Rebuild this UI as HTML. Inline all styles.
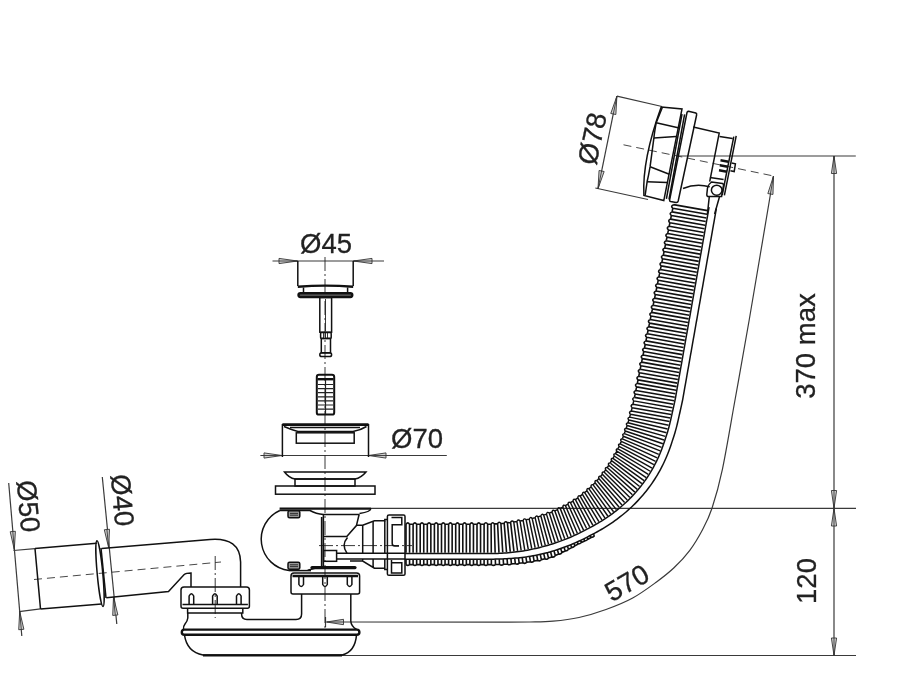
<!DOCTYPE html>
<html><head><meta charset="utf-8"><style>
html,body{margin:0;padding:0;background:#fff;overflow:hidden}
svg{display:block;will-change:transform}
.tx{font-family:"Liberation Sans",sans-serif;font-size:27.5px;fill:#222;stroke:#222;stroke-width:0.3}
.d{stroke:#3a3a3a;stroke-width:1.2;fill:none}
.t{stroke:#222;stroke-width:0.9;fill:none}
.s{stroke:#111;stroke-width:1.5;fill:none}
.k{stroke:#111;stroke-width:2.4;fill:none}
.k2{stroke:#111;stroke-width:2.6;fill:none}
.k3{stroke:#111;stroke-width:3.2;fill:none;stroke-linecap:round}
.rib{stroke:#111;stroke-width:1.6;fill:none}
.rib2{stroke:#111;stroke-width:1.45;fill:none}
.bead{stroke:#111;stroke-width:1.3;fill:none}
.ar{stroke:#333;stroke-width:0.9;fill:#d0d0d0}
.c{stroke:#222;stroke-width:0.9;stroke-dasharray:14 3 2 3;fill:none}
.c2{stroke:#333;stroke-width:0.9;stroke-dasharray:8 5;fill:none}
</style></head><body>
<svg width="907" height="693" viewBox="0 0 907 693">
<line class="d" x1="834" y1="156" x2="834" y2="655.5"/>
<line class="d" x1="676.8" y1="156" x2="855.8" y2="156"/>
<line class="d" x1="371" y1="508.3" x2="856" y2="508.3"/>
<line class="d" x1="342" y1="655.5" x2="856" y2="655.5"/>
<path class="ar" d="M834,156 L831.4,173.5 L836.6,173.5 Z M834,156 L834,173.5"/>
<path class="ar" d="M834,508.3 L836.6,490.5 L831.4,490.5 Z M834,508.3 L834,490.5"/>
<path class="ar" d="M834,508.3 L831.4,526 L836.6,526 Z M834,508.3 L834,526"/>
<path class="ar" d="M834,655.5 L836.6,638 L831.4,638 Z M834,655.5 L834,638"/>
<text class="tx" transform="translate(814.5,346) rotate(-90)" text-anchor="middle">370 max</text>
<text class="tx" transform="translate(816.4,581) rotate(-90)" text-anchor="middle">120</text>
<line class="d" x1="272.5" y1="261" x2="384" y2="261"/>
<path class="ar" d="M297.5,261 L279,258.4 L279,263.6 Z M297.5,261 L279,261"/>
<path class="ar" d="M353.5,261 L372,263.6 L372,258.4 Z M353.5,261 L372,261"/>
<text class="tx" x="326" y="252.5" text-anchor="middle">Ø45</text>
<line class="d" x1="260.4" y1="455.5" x2="446.8" y2="455.5"/>
<path class="ar" d="M282,455.5 L264,452.9 L264,458.1 Z M282,455.5 L264,455.5"/>
<path class="ar" d="M368.5,455.5 L386,458.1 L386,452.9 Z M368.5,455.5 L386,455.5"/>
<text class="tx" x="417" y="448.3" text-anchor="middle">Ø70</text>
<line class="d" x1="616.9" y1="96.2" x2="598" y2="188.8"/>
<line class="d" x1="616.9" y1="96.2" x2="662" y2="106.5"/>
<line class="d" x1="595.3" y1="188" x2="648" y2="199.5"/>
<path class="ar" d="M616.9,96.2 L610.75,113.48 L615.85,114.52 Z M616.9,96.2 L613.3,114"/>
<path class="ar" d="M598,188.8 L604.15,171.52 L599.05,170.48 Z M598,188.8 L601.6,171"/>
<text class="tx" transform="translate(601.5,140.5) rotate(-78)" text-anchor="middle">Ø78</text>
<line class="d" x1="8.7" y1="483" x2="21.8" y2="636"/>
<line class="d" x1="13.5" y1="550.5" x2="35" y2="548.6"/>
<line class="d" x1="19" y1="611.7" x2="40.5" y2="608.9"/>
<path class="ar" d="M14.3,549.6 L15.39,531.29 L10.21,531.71 Z M14.3,549.6 L12.8,531.5"/>
<path class="ar" d="M19.7,611.4 L18.71,629.73 L23.89,629.27 Z M19.7,611.4 L21.3,629.5"/>
<text class="tx" transform="translate(19,507) rotate(85)" text-anchor="middle">Ø50</text>
<line class="d" x1="102.3" y1="477" x2="116.8" y2="624"/>
<path class="ar" d="M108.7,547.8 L109.49,529.25 L104.31,529.75 Z M108.7,547.8 L106.9,529.5"/>
<path class="ar" d="M113.5,597 L112.71,615.46 L117.89,614.94 Z M113.5,597 L115.3,615.2"/>
<text class="tx" transform="translate(113,501) rotate(85)" text-anchor="middle">Ø40</text>
<path class="d" d="M773.5,176 C769.45,200 755.62,282.67 749.2,320 C742.78,357.33 739.47,375.12 735,400 C730.53,424.88 726.23,451.25 722.4,469.3 C718.57,487.35 715.32,498.23 712,508.3 C708.68,518.37 706.2,522.7 702.5,529.7 C698.8,536.7 694.55,543.95 689.8,550.3 C685.05,556.65 679.55,562.52 674,567.8 C668.45,573.08 663.38,576.97 656.5,582 C649.62,587.03 641.12,593.42 632.7,598 C624.28,602.58 614.95,606.25 606,609.5 C597.05,612.75 587.83,615.55 579,617.5 C570.17,619.45 561.17,620.45 553,621.2 C544.83,621.95 538.83,621.85 530,622 C521.17,622.15 505,622.08 500,622.1 L344,622"/>
<path class="ar" d="M773.5,176 L767.84,193.56 L772.96,194.44 Z M773.5,176 L770.4,194"/>
<path class="ar" d="M326.5,622 L343.5,624.7 L343.5,619.3 Z M326.5,622 L343.5,622"/>
<line class="d" x1="325.5" y1="617" x2="325.5" y2="627"/>
<text class="tx" transform="translate(631.5,591) rotate(-30)" text-anchor="middle">570</text>
<line class="c" x1="325" y1="257" x2="325" y2="630"/>
<line class="c2" x1="34" y1="579.5" x2="221" y2="562"/>
<line class="c" x1="215.2" y1="556" x2="215.2" y2="618"/>
<line class="c" x1="319" y1="545.6" x2="412" y2="545.6"/>
<line class="c2" x1="623.5" y1="144.8" x2="773.5" y2="176"/>
<path class="s" d="M297.8,261 V286 M353.2,261 V286"/>
<path class="k" d="M297.8,286.8 Q325.5,284.5 353.2,286.8"/>
<path class="s" d="M303.5,287.5 V293 M347.6,287.5 V293"/>
<rect class="k" x="298.5" y="293.2" width="53.8" height="3.8" rx="1.9" style="fill:#666"/>
<rect class="s" x="319.8" y="297.5" width="11.8" height="34.7"/>
<line class="t" x1="325.5" y1="299" x2="325.5" y2="331"/>
<rect class="s" x="320.6" y="332.6" width="10.6" height="5.8" rx="1"/>
<path class="t" d="M323.5,333 V338 M325.5,333 V338 M327.5,333 V338"/>
<rect class="s" x="321.3" y="338.4" width="9.2" height="14.5"/>
<rect class="s" x="319.8" y="352.8" width="11.8" height="3.8" rx="1.9"/>
<rect class="s" x="316.8" y="374.8" width="17.4" height="39.8" rx="2.2" style="stroke-width:2"/>
<path class="k" d="M317.5,379.2 H333.5"/>
<path class="t" style="stroke-width:1.2" d="M325.5,380 V414 M318,384.5 H333 M318,388.6 H333 M318,392.7 H333 M318,396.8 H333 M318,400.9 H333 M318,405 H333 M318,409.1 H333"/>
<path class="k2" d="M282.4,424.6 H368.5"/>
<path class="s" d="M282.4,424 V457 M368.5,424 V457"/>
<path class="s" d="M284,426.5 Q292,430 298,431.5 H353 Q361,430 366.5,426.5"/>
<path class="s" d="M290,427.5 H360"/>
<rect class="s" x="296.3" y="432.8" width="57.9" height="10.4"/>
<path class="s" d="M284.5,472 H366 Q361,478 355,479 H295 Q289,478 284.5,472 Z"/>
<rect class="s" x="295" y="479" width="60" height="7"/>
<rect class="s" x="275.5" y="486" width="99.5" height="8.2"/>
<path class="k" d="M279.6,508.6 H371"/>
<path class="s" d="M279.8,510.5 A31.5,31.5 0 0 0 289,570.5"/>
<path class="s" d="M279.6,510.5 H310 Q316,514 323.6,514.4 H359.5"/>
<path class="s" d="M359.5,513.6 Q371,511.5 370.8,508.6"/>
<path class="s" d="M359.1,514.5 L356.4,525.6 L346.8,536.6 H323.6"/>
<path class="s" d="M347.5,537.5 Q341,545 347,553.2"/>
<path class="s" d="M323.4,514.4 V569 M321.6,517 V569"/>
<path class="s" d="M357,525.3 H362.7 L374.4,520.8 H384.8 V519.4 H387.4"/>
<path class="s" d="M362.7,525.3 V553 M373.1,521 V553 M384.8,520.8 V553"/>
<path class="s" d="M350,561 H362.7 L374.4,568.2 H384.8 V569.5 H387.4 M362.7,559 V561 M373.1,559 V568 M384.8,559 V568.2"/>
<rect class="s" x="288" y="510.8" width="11.8" height="7" rx="1.5" style="fill:#999"/>
<path class="t" d="M290,513.4 H298 M290,515.2 H298"/>
<rect class="s" x="288" y="562.2" width="11.8" height="7" rx="1.5" style="fill:#999"/>
<path class="t" d="M290,564.8 H298 M290,566.6 H298"/>
<path class="s" d="M387.4,516.5 Q387.4,515 389,515 H403.5 Q405,515 405,516.5 V574 Q405,575.3 403.5,575.3 H389 Q387.4,575.3 387.4,574 Z"/>
<path class="s" d="M391.5,517.4 H401.8 V524.7 H392.2 V543.5 Q392.2,546 395,546 H399"/>
<path class="s" d="M391.5,560 V573 H401.8 V562.8 H392"/>
<rect class="s" x="323.6" y="550.5" width="13" height="10.8"/>
<path class="s" d="M336.6,553.3 H405 M336.6,559.1 H405"/>
<path class="k3" d="M312,567.6 H355"/>
<path class="s" d="M307.7,570.2 L322,566.4"/>
<path class="s" d="M289,570.6 L311,570.6"/>
<path class="s" d="M291,576 Q291,573 294,573 H356.6 Q359.6,573 359.6,576 V592 Q359.6,594 357.6,594 H293 Q291,594 291,592 Z"/>
<path class="k" d="M292.5,576 H358"/>
<path class="s" d="M298.9,576.5 V584.5 Q301.2,588.5 303.5,584.5 V576.5"/>
<path class="s" d="M322.7,576.5 V584.5 Q325,588.5 327.3,584.5 V576.5"/>
<path class="s" d="M347.3,576.5 V584.5 Q349.6,588.5 351.9,584.5 V576.5"/>
<path class="s" d="M181,590 Q181,587 184,587 H246.4 Q249.4,587 249.4,590 V606.3 Q249.4,608.3 247.4,608.3 H183 Q181,608.3 181,606.3 Z"/>
<path class="s" d="M182.5,604.6 H247.9"/>
<path class="s" d="M189.1,604 V596 Q191.4,591.5 193.7,596 V604"/>
<path class="s" d="M212.6,604 V596 Q214.9,591.5 217.2,596 V604"/>
<path class="s" d="M236.5,604 V596 Q238.8,591.5 241.1,596 V604"/>
<path class="s" d="M187.6,608.5 V613 H242.8 V608.5"/>
<path class="s" d="M301.6,594 V614 Q301.6,619.5 296,619.5 H247 Q241.6,619.5 241.6,614 V613"/>
<path class="s" d="M350.8,594 V621 Q351,626 356.5,629.5"/>
<path class="s" d="M187.8,613 V618 Q187.5,621 185,624 Q183,626.5 183.5,629.5"/>
<rect class="k" x="181.8" y="629.6" width="177.6" height="5.2" rx="2.6"/>
<path class="s" d="M184.5,635.1 Q187,652 203,655 H342 Q355,652 356.5,635.1"/>
<path class="k" d="M203,655.4 H342"/>
<path class="s" d="M101.6,548.6 L210,539.4 Q240,537 240.6,562 V587"/>
<path class="s" d="M106.3,597.8 L168.5,591.5 L184.2,574.5 Q186,573 191,573 V587"/>
<path class="s" d="M35,548.6 L96.8,543.2 M40.5,608.9 L101.6,604.1 M35,548.6 L40.5,608.9"/>
<ellipse class="s" cx="100" cy="573.6" rx="2.8" ry="33" transform="rotate(-5.3 100 573.6)"/>
<path class="s" d="M101,548 L106,598"/>
<path class="rib" d="M406,524.3 L406,552.8 M409.55,524.3 L409.55,552.8 M413.1,524.3 L413.1,552.8 M416.65,524.3 L416.65,552.8 M420.2,524.3 L420.2,552.8 M423.75,524.3 L423.75,552.8 M427.3,524.3 L427.3,552.8 M430.85,524.3 L430.85,552.8 M434.4,524.3 L434.4,552.8 M437.95,524.3 L437.95,552.8 M441.5,524.3 L441.5,552.8 M445.05,524.3 L445.05,552.8 M448.6,524.3 L448.6,552.8 M452.15,524.3 L452.15,552.8 M455.7,524.3 L455.7,552.8 M459.25,524.3 L459.25,552.8 M462.8,524.3 L462.8,552.8 M466.35,524.3 L466.35,552.8 M469.9,524.3 L469.9,552.8 M473.45,524.3 L473.45,552.8 M477,524.3 L477,552.8 M480.55,524.3 L480.55,552.8 M484.1,524.27 L484.1,552.8 M487.65,524.19 L487.65,552.8 M491.1,524.07 L491.3,552.79 M494.35,523.92 L495.14,552.73 M497.62,523.72 L498.97,552.59 M500.9,523.47 L502.77,552.37 M504.15,523.18 L506.53,552.1 M507.39,522.84 L510.25,551.76 M510.59,522.45 L513.92,551.37 M634.46,397.39 L673.35,404.24 M635.18,393.92 L674.09,400.77 M635.89,390.42 L674.77,397.27 M636.6,386.9 L675.39,393.74 M637.31,383.37 L676.02,390.19 M638.03,379.84 L676.64,386.65 M638.75,376.31 L677.27,383.1 M639.46,372.78 L677.89,379.55 M640.18,369.24 L678.52,375.99 M640.9,365.7 L679.14,372.44 M641.62,362.16 L679.77,368.88 M642.33,358.62 L680.4,365.33 M643.05,355.07 L681.03,361.77 M643.77,351.53 L681.65,358.2 M644.49,347.98 L682.28,354.64 M645.21,344.43 L682.91,351.08 M645.93,340.88 L683.54,347.51 M646.65,337.33 L684.17,343.94 M647.37,333.78 L684.8,340.37 M648.09,330.22 L685.42,336.8 M648.81,326.66 L686.05,333.22 M649.54,323.1 L686.68,329.65 M650.26,319.54 L687.31,326.07 M650.98,315.98 L687.95,322.49 M651.7,312.41 L688.58,318.91 M652.43,308.85 L689.21,315.33 M653.15,305.28 L689.84,311.74 M653.87,301.71 L690.47,308.16 M654.6,298.14 L691.1,304.57 M655.32,294.56 L691.74,300.98 M656.05,290.99 L692.37,297.39 M656.77,287.41 L693,293.79 M657.5,283.83 L693.64,290.2 M658.22,280.25 L694.27,286.6 M658.95,276.67 L694.9,283 M659.68,273.08 L695.54,279.4 M660.41,269.5 L696.17,275.8 M661.13,265.91 L696.81,272.2 M661.86,262.32 L697.44,268.59 M662.59,258.73 L698.08,264.98 M663.32,255.13 L698.71,261.37 M664.05,251.54 L699.35,257.76 M664.78,247.94 L699.99,254.15 M665.51,244.34 L700.62,250.53 M666.24,240.74 L701.26,246.92 M666.97,237.14 L701.9,243.3 M667.7,233.54 L702.54,239.68 M668.43,229.93 L703.18,236.05 M669.16,226.32 L703.81,232.43 M669.89,222.71 L704.45,228.8 M670.62,219.1 L705.09,225.18 M671.36,215.49 L705.73,221.55 M672.09,211.88 L706.37,217.92 M672.82,208.26 L707.01,214.28 M673.56,204.64 L707.65,210.65 M406,524.3 Q407.77,521.46 409.55,524.3 M413.1,524.3 Q414.87,521.46 416.65,524.3 M420.2,524.3 Q421.97,521.46 423.75,524.3 M427.3,524.3 Q429.07,521.46 430.85,524.3 M434.4,524.3 Q436.17,521.46 437.95,524.3 M441.5,524.3 Q443.27,521.46 445.05,524.3 M448.6,524.3 Q450.37,521.46 452.15,524.3 M455.7,524.3 Q457.47,521.46 459.25,524.3 M462.8,524.3 Q464.57,521.46 466.35,524.3 M469.9,524.3 Q471.67,521.46 473.45,524.3 M477,524.3 Q478.77,521.46 480.55,524.3 M484.1,524.27 Q485.87,521.39 487.65,524.19 M491.1,524.07 Q492.7,521.39 494.35,523.92 M497.62,523.72 Q499.14,520.97 500.9,523.47 M504.15,523.18 Q505.56,520.41 507.39,522.84 M510.59,522.45 Q511.89,519.69 513.77,522.02 M635.18,393.92 Q632.72,391.67 635.89,390.42 M636.6,386.9 Q634.12,384.64 637.31,383.37 M638.03,379.84 Q635.55,377.58 638.75,376.31 M639.46,372.78 Q636.98,370.51 640.18,369.24 M640.9,365.7 Q638.41,363.43 641.62,362.16 M642.33,358.62 Q639.84,356.34 643.05,355.07 M643.77,351.53 Q641.28,349.25 644.49,347.98 M645.21,344.43 Q642.72,342.16 645.93,340.88 M646.65,337.33 Q644.15,335.05 647.37,333.78 M648.09,330.22 Q645.59,327.94 648.81,326.66 M649.54,323.1 Q647.03,320.82 650.26,319.54 M650.98,315.98 Q648.48,313.69 651.7,312.41 M652.43,308.85 Q649.92,306.56 653.15,305.28 M653.87,301.71 Q651.36,299.42 654.6,298.14 M655.32,294.56 Q652.81,292.27 656.05,290.99 M656.77,287.41 Q654.26,285.11 657.5,283.83 M658.22,280.25 Q655.71,277.95 658.95,276.67 M659.68,273.08 Q657.16,270.78 660.41,269.5 M661.13,265.91 Q658.61,263.61 661.86,262.32 M662.59,258.73 Q660.06,256.42 663.32,255.13 M664.05,251.54 Q661.52,249.23 664.78,247.94 M665.51,244.34 Q662.98,242.03 666.24,240.74 M666.97,237.14 Q664.43,234.83 667.7,233.54 M668.43,229.93 Q665.89,227.62 669.16,226.32 M669.89,222.71 Q667.35,220.4 670.62,219.1 M671.36,215.49 Q668.82,213.17 672.09,211.88 M672.82,208.26 Q670.28,205.94 673.56,204.64 M409.55,524.3 L413.1,524.3 M416.65,524.3 L420.2,524.3 M423.75,524.3 L427.3,524.3 M430.85,524.3 L434.4,524.3 M437.95,524.3 L441.5,524.3 M445.05,524.3 L448.6,524.3 M452.15,524.3 L455.7,524.3 M459.25,524.3 L462.8,524.3 M466.35,524.3 L469.9,524.3 M473.45,524.3 L477,524.3 M480.55,524.3 L484.1,524.27 M487.65,524.19 L491.1,524.07 M494.35,523.92 L497.62,523.72 M500.9,523.47 L504.15,523.18 M507.39,522.84 L510.59,522.45 M634.46,397.39 L635.18,393.92 M635.89,390.42 L636.6,386.9 M637.31,383.37 L638.03,379.84 M638.75,376.31 L639.46,372.78 M640.18,369.24 L640.9,365.7 M641.62,362.16 L642.33,358.62 M643.05,355.07 L643.77,351.53 M644.49,347.98 L645.21,344.43 M645.93,340.88 L646.65,337.33 M647.37,333.78 L648.09,330.22 M648.81,326.66 L649.54,323.1 M650.26,319.54 L650.98,315.98 M651.7,312.41 L652.43,308.85 M653.15,305.28 L653.87,301.71 M654.6,298.14 L655.32,294.56 M656.05,290.99 L656.77,287.41 M657.5,283.83 L658.22,280.25 M658.95,276.67 L659.68,273.08 M660.41,269.5 L661.13,265.91 M661.86,262.32 L662.59,258.73 M663.32,255.13 L664.05,251.54 M664.78,247.94 L665.51,244.34 M666.24,240.74 L666.97,237.14 M667.7,233.54 L668.43,229.93 M669.16,226.32 L669.89,222.71 M670.62,219.1 L671.36,215.49 M672.09,211.88 L672.82,208.26"/>
<path class="rib2" d="M513.77,522.02 L517.56,550.92 M516.92,521.54 L521.16,550.42 M520.04,521.01 L524.72,549.86 M523.12,520.44 L528.24,549.2 M526.17,519.82 L531.72,548.5 M529.18,519.15 L535.15,547.74 M532.15,518.43 L538.55,546.94 M535.09,517.66 L541.91,546.08 M537.99,516.85 L545.23,545.18 M540.84,515.99 L548.52,544.24 M543.68,515.07 L551.79,543.24 M546.49,514.09 L555.04,542.18 M549.28,513.06 L558.28,541.07 M552.05,511.98 L561.51,539.9 M554.79,510.83 L564.72,538.68 M557.49,509.63 L567.91,537.4 M560.17,508.37 L571.08,536.06 M562.81,507.04 L574.23,534.66 M565.41,505.66 L577.36,533.2 M567.98,504.23 L580.47,531.68 M570.5,502.73 L583.56,530.1 M572.99,501.18 L586.62,528.45 M575.43,499.57 L589.72,526.86 M577.82,497.9 L592.8,525.21 M580.16,496.18 L595.85,523.49 M582.46,494.4 L598.88,521.71 M584.7,492.58 L601.88,519.87 M586.89,490.71 L604.85,517.95 M589.02,488.79 L607.79,515.97 M591.1,486.83 L610.7,513.91 M593.11,484.82 L613.57,511.78 M595.07,482.78 L616.4,509.59 M596.98,480.7 L619.19,507.31 M598.82,478.58 L621.93,504.97 M600.61,476.44 L624.63,502.55 M602.34,474.26 L627.27,500.05 M604.01,472.06 L629.86,497.49 M605.63,469.83 L632.4,494.84 M607.19,467.57 L634.87,492.13 M608.7,465.3 L637.28,489.34 M610.16,463 L639.62,486.49 M611.57,460.69 L641.88,483.57 M612.93,458.35 L644.08,480.58 M614.24,456 L646.19,477.53 M615.5,453.62 L648.23,474.42 M616.72,451.23 L650.18,471.25 M617.91,448.81 L652.06,468.01 M619.06,446.36 L653.86,464.72 M620.17,443.88 L655.57,461.35 M621.26,441.36 L657.2,457.93 M622.31,438.81 L658.75,454.45 M623.33,436.22 L660.21,450.92 M624.32,433.6 L661.58,447.35 M625.28,430.94 L662.87,443.72 M626.21,428.24 L664.06,440.06 M627.11,425.51 L665.3,436.41 M627.99,422.74 L666.48,432.72 M628.84,419.93 L667.57,429.01 M629.66,417.09 L668.58,425.26 M630.46,414.2 L669.51,421.48 M631.29,411.03 L670.3,417.93 M632.13,407.67 L671.06,414.53 M632.94,404.27 L671.82,411.12 M633.72,400.84 L672.58,407.69 M516.92,521.54 Q518.11,518.78 520.04,521.01 M523.12,520.44 Q524.21,517.68 526.17,519.82 M529.18,519.15 Q530.17,516.39 532.15,518.43 M535.09,517.66 Q535.98,514.91 537.99,516.85 M540.84,515.99 Q541.64,513.23 543.68,515.07 M546.49,514.09 Q547.2,511.3 549.28,513.06 M552.05,511.98 Q552.66,509.16 554.79,510.83 M557.49,509.63 Q558,506.78 560.17,508.37 M562.81,507.04 Q563.21,504.18 565.41,505.66 M567.98,504.23 Q568.27,501.34 570.5,502.73 M572.99,501.18 Q573.16,498.28 575.43,499.57 M577.82,497.9 Q577.87,495 580.16,496.18 M582.46,494.4 Q582.39,491.51 584.7,492.58 M586.89,490.71 Q586.69,487.83 589.02,488.79 M591.1,486.83 Q590.77,483.98 593.11,484.82 M595.07,482.78 Q594.62,479.97 596.98,480.7 M598.82,478.58 Q598.24,475.83 600.61,476.44 M602.34,474.26 Q601.64,471.57 604.01,472.06 M605.63,469.83 Q604.81,467.2 607.19,467.57 M608.7,465.3 Q607.77,462.75 610.16,463 M611.57,460.69 Q610.52,458.22 612.93,458.35 M614.24,456 Q613.09,453.61 615.5,453.62 M616.72,451.23 Q615.47,448.91 617.91,448.81 M619.06,446.36 Q617.69,444.1 620.17,443.88 M621.26,441.36 Q619.78,439.16 622.31,438.81 M623.33,436.22 Q621.74,434.08 624.32,433.6 M625.28,430.94 Q623.58,428.86 626.21,428.24 M627.11,425.51 Q625.32,423.49 627.99,422.74 M628.84,419.93 Q626.94,417.97 629.66,417.09 M630.46,414.2 Q628.29,412.14 631.29,411.03 M632.13,407.67 Q629.78,405.48 632.94,404.27 M633.72,400.84 Q631.31,398.63 634.46,397.39 M513.77,522.02 L516.92,521.54 M520.04,521.01 L523.12,520.44 M526.17,519.82 L529.18,519.15 M532.15,518.43 L535.09,517.66 M537.99,516.85 L540.84,515.99 M543.68,515.07 L546.49,514.09 M549.28,513.06 L552.05,511.98 M554.79,510.83 L557.49,509.63 M560.17,508.37 L562.81,507.04 M565.41,505.66 L567.98,504.23 M570.5,502.73 L572.99,501.18 M575.43,499.57 L577.82,497.9 M580.16,496.18 L582.46,494.4 M584.7,492.58 L586.89,490.71 M589.02,488.79 L591.1,486.83 M593.11,484.82 L595.07,482.78 M596.98,480.7 L598.82,478.58 M600.61,476.44 L602.34,474.26 M604.01,472.06 L605.63,469.83 M607.19,467.57 L608.7,465.3 M610.16,463 L611.57,460.69 M612.93,458.35 L614.24,456 M615.5,453.62 L616.72,451.23 M617.91,448.81 L619.06,446.36 M620.17,443.88 L621.26,441.36 M622.31,438.81 L623.33,436.22 M624.32,433.6 L625.28,430.94 M626.21,428.24 L627.11,425.51 M627.99,422.74 L628.84,419.93 M629.66,417.09 L630.46,414.2 M631.29,411.03 L632.13,407.67 M632.94,404.27 L633.72,400.84"/>
<polyline class="s" points="405,553.6 407,553.6 409,553.6 411,553.6 413,553.6 415,553.6 417,553.6 419,553.6 421,553.6 423,553.6 425,553.6 427,553.6 429,553.6 431,553.6 433,553.6 435,553.6 437,553.6 439,553.6 441,553.6 443,553.6 445,553.6 447,553.6 449,553.6 451,553.6 453,553.6 455,553.6 457,553.6 459,553.6 461,553.6 463,553.6 465,553.6 467,553.6 469,553.6 471,553.6 473,553.6 475,553.6 477,553.6 479,553.6 481,553.6 483,553.6 485,553.6 487,553.6 489,553.6 491.09,553.6 493.27,553.57 495.44,553.52 497.6,553.45 499.76,553.35 501.91,553.23 504.06,553.09 506.2,552.93 508.34,552.74 510.48,552.54 512.61,552.32 514.74,552.08 516.86,551.82 518.98,551.54 521.1,551.24 523.22,550.92 525.32,550.56 527.43,550.17 529.52,549.76 531.62,549.33 533.71,548.88 535.8,548.41 537.88,547.92 539.96,547.41 542.03,546.88 544.1,546.33 546.16,545.75 548.22,545.16 550.27,544.54 552.32,543.91 554.37,543.25 556.4,542.57 558.43,541.87 560.46,541.14 562.48,540.4 564.49,539.63 566.5,538.84 568.5,538.02 570.49,537.19 572.47,536.33 574.45,535.44 576.42,534.53 578.38,533.6 580.33,532.65 582.27,531.67 584.2,530.66 586.12,529.63 588.05,528.62 590,527.61 591.93,526.59 593.86,525.53 595.78,524.46 597.69,523.35 599.58,522.22 601.47,521.07 603.34,519.88 605.21,518.68 607.06,517.44 608.9,516.17 610.72,514.88 612.53,513.56 614.33,512.21 616.11,510.84 617.87,509.43 619.62,507.99 621.35,506.53 623.06,505.04 624.76,503.52 626.43,501.96 628.08,500.38 629.71,498.77 631.32,497.14 632.91,495.47 634.47,493.77 636.01,492.05 637.52,490.3 639.01,488.52 640.46,486.71 641.89,484.87 643.29,483.01 644.67,481.13 646.01,479.22 647.32,477.29 648.59,475.33 649.84,473.35 651.05,471.35 652.23,469.33 653.38,467.29 654.49,465.23 655.56,463.16 656.6,461.06 657.61,458.96 658.58,456.83 659.52,454.7 660.42,452.55 661.28,450.39 662.11,448.22 662.91,446.04 663.67,443.86 664.39,441.66 665.1,439.47 665.85,437.29 666.57,435.11 667.26,432.92 667.91,430.72 668.54,428.53 669.13,426.33 669.69,424.12 670.22,421.92 670.72,419.76 671.15,417.8 671.59,415.83 672.02,413.88 672.46,411.93 672.89,409.98 673.32,408.03 673.76,406.07 674.19,404.12 674.63,402.17 675.02,400.21 675.41,398.25 675.76,396.28 676.1,394.31 676.45,392.34 676.8,390.37 677.15,388.4 677.49,386.43 677.84,384.46 678.19,382.49 678.53,380.52 678.88,378.55 679.23,376.58 679.57,374.61 679.92,372.64 680.27,370.67 680.62,368.7 680.96,366.73 681.31,364.76 681.66,362.79 682,360.82 682.35,358.86 682.7,356.89 683.04,354.92 683.39,352.95 683.74,350.98 684.09,349.01 684.43,347.04 684.78,345.07 685.13,343.1 685.47,341.13 685.82,339.16 686.17,337.19 686.51,335.22 686.86,333.25 687.21,331.28 687.56,329.31 687.9,327.34 688.25,325.37 688.6,323.4 688.94,321.43 689.29,319.47 689.64,317.5 689.99,315.53 690.33,313.56 690.68,311.59 691.03,309.62 691.37,307.65 691.72,305.68 692.07,303.71 692.41,301.74 692.76,299.77 693.11,297.8 693.46,295.83 693.8,293.86 694.15,291.89 694.5,289.92 694.84,287.95 695.19,285.98 695.54,284.01 695.88,282.04 696.23,280.08 696.58,278.11 696.93,276.14 697.27,274.17 697.62,272.2 697.97,270.23 698.31,268.26 698.66,266.29 699.01,264.32 699.35,262.35 699.7,260.38 700.05,258.41 700.4,256.44 700.74,254.47 701.09,252.5 701.44,250.53 701.78,248.56 702.13,246.59 702.48,244.62 702.83,242.66 703.17,240.69 703.52,238.72 703.87,236.75 704.21,234.78 704.56,232.81 704.91,230.84 705.25,228.87 705.6,226.9 705.95,224.93 706.3,222.96 706.64,220.99 706.99,219.02 707.34,217.05 707.68,215.08 708.03,213.11 708.38,211.14 708.72,209.17 709.07,207.2"/>
<polyline class="s" points="405,559.2 407,559.2 409,559.2 411,559.2 413,559.2 415,559.2 417,559.2 419,559.2 421,559.2 423,559.2 425,559.2 427,559.2 429,559.2 431,559.2 433,559.2 435,559.2 437,559.2 439,559.2 441,559.2 443,559.2 445,559.2 447,559.2 449,559.2 451,559.2 453,559.2 455,559.2 457,559.2 459,559.2 461,559.2 463,559.2 465,559.2 467,559.2 469,559.2 471,559.2 473,559.2 475,559.2 477,559.2 479,559.2 481,559.2 483,559.2 485,559.2 487,559.2 489.01,559.2 491.12,559.2 493.37,559.17 495.6,559.12 497.82,559.04 500.04,558.97 502.25,558.91 504.46,558.83 506.67,558.73 508.87,558.61 511.07,558.46 513.26,558.3 515.45,558.11 517.64,557.91 519.82,557.68 522.01,557.43 524.19,557.17 526.36,556.87 528.53,556.53 530.7,556.17 532.86,555.8 535.02,555.4 537.18,554.98 539.34,554.54 541.49,554.07 543.64,553.59 545.78,553.08 547.92,552.53 550.04,551.92 552.16,551.29 554.27,550.64 556.38,549.97 558.48,549.28 560.58,548.56 562.67,547.81 564.76,547.05 566.84,546.26 568.91,545.45 570.98,544.62 573.04,543.76 575.1,542.87 577.14,541.97 579.18,541.03 581.21,540.08 583.24,539.09 585.25,538.08 587.26,537.05 589.25,535.99 591.26,534.94 593.28,533.9 595.3,532.84 597.3,531.75 599.3,530.63 601.28,529.49 603.26,528.31 605.23,527.11 607.18,525.88 609.13,524.63 611.06,523.34 612.98,522.02 614.89,520.68 616.78,519.3 618.66,517.9 620.52,516.46 622.37,514.99 624.2,513.49 626.02,511.97 627.81,510.41 629.59,508.81 631.35,507.19 633.08,505.53 634.8,503.85 636.49,502.13 638.16,500.38 639.8,498.6 641.42,496.8 643.01,494.96 644.58,493.09 646.12,491.19 647.62,489.27 649.1,487.31 650.55,485.33 651.96,483.33 653.34,481.29 654.69,479.24 656,477.16 657.28,475.06 658.52,472.93 659.73,470.79 660.9,468.63 662.04,466.45 663.14,464.25 664.2,462.04 665.22,459.81 666.21,457.57 667.16,455.31 668.07,453.05 668.94,450.78 669.78,448.49 670.58,446.2 671.35,443.91 672.09,441.61 672.87,439.33 673.63,437.04 674.34,434.76 675.03,432.46 675.68,430.17 676.3,427.87 676.88,425.57 677.44,423.27 677.95,421.05 678.39,419.08 678.83,417.11 679.27,415.16 679.71,413.21 680.15,411.26 680.58,409.3 681.02,407.35 681.46,405.4 681.9,403.45 682.3,401.49 682.69,399.53 683.04,397.56 683.39,395.59 683.74,393.62 684.09,391.65 684.43,389.68 684.78,387.71 685.13,385.74 685.47,383.77 685.82,381.8 686.17,379.83 686.52,377.86 686.86,375.9 687.21,373.93 687.56,371.96 687.9,369.99 688.25,368.02 688.6,366.05 688.94,364.08 689.29,362.11 689.64,360.14 689.99,358.17 690.33,356.2 690.68,354.23 691.03,352.26 691.37,350.29 691.72,348.32 692.07,346.35 692.41,344.38 692.76,342.41 693.11,340.44 693.46,338.47 693.8,336.51 694.15,334.54 694.5,332.57 694.84,330.6 695.19,328.63 695.54,326.66 695.88,324.69 696.23,322.72 696.58,320.75 696.93,318.78 697.27,316.81 697.62,314.84 697.97,312.87 698.31,310.9 698.66,308.93 699.01,306.96 699.36,304.99 699.7,303.02 700.05,301.05 700.4,299.09 700.74,297.12 701.09,295.15 701.44,293.18 701.78,291.21 702.13,289.24 702.48,287.27 702.83,285.3 703.17,283.33 703.52,281.36 703.87,279.39 704.21,277.42 704.56,275.45 704.91,273.48 705.25,271.51 705.6,269.54 705.95,267.57 706.3,265.6 706.64,263.63 706.99,261.66 707.34,259.7 707.68,257.73 708.03,255.76 708.38,253.79 708.72,251.82 709.07,249.85 709.42,247.88 709.77,245.91 710.11,243.94 710.46,241.97 710.81,240 711.15,238.03 711.5,236.06 711.85,234.09 712.2,232.12 712.54,230.15 712.89,228.18 713.24,226.21 713.58,224.24 713.93,222.27 714.28,220.31 714.62,218.34 714.97,216.37 715.32,214.4 715.67,212.43 716.01,210.46 716.36,208.49"/>
<path class="rib" d="M406,559.4 L406,564.6 M409.55,559.4 L409.55,564.6 M413.1,559.4 L413.1,564.6 M416.65,559.4 L416.65,564.6 M420.2,559.4 L420.2,564.6 M423.75,559.4 L423.75,564.6 M427.3,559.4 L427.3,564.6 M430.85,559.4 L430.85,564.6 M434.4,559.4 L434.4,564.6 M437.95,559.4 L437.95,564.6 M441.5,559.4 L441.5,564.6 M445.05,559.4 L445.05,564.6 M448.6,559.4 L448.6,564.6 M452.15,559.4 L452.15,564.6 M455.7,559.4 L455.7,564.6 M459.25,559.4 L459.25,564.6 M462.8,559.4 L462.8,564.6 M466.35,559.4 L466.35,564.6 M469.9,559.4 L469.9,564.6 M473.45,559.4 L473.45,564.6 M477,559.4 L477,564.6 M480.55,559.4 L480.55,564.6 M484.1,559.4 L484.1,564.6 M487.65,559.4 L487.65,564.6 M491.35,559.39 L491.39,564.59 M495.33,559.33 L495.47,564.52 M499.27,559.19 L499.52,564.38 M503.2,559.08 L503.54,564.27 M507.09,558.91 L507.51,564.09 M510.93,558.67 L511.44,563.85 M514.73,558.37 L515.33,563.54 M518.49,558.02 L519.17,563.18 M522.22,557.61 L522.98,562.76 M525.91,557.14 L526.74,562.27 M529.55,556.57 L530.46,561.69 M533.16,555.95 L534.14,561.05 M536.73,555.27 L537.79,560.36 M540.26,554.54 L541.4,559.62 M543.76,553.76 L544.97,558.82 M547.22,552.93 L548.5,557.97 M550.62,551.96 L551.96,556.92 M554,550.94 L555.32,555.5 M557.38,549.85 L558.65,554.03 M560.74,548.71 L561.96,552.51 M564.09,547.51 L565.24,550.93 M567.42,546.25 L568.5,549.29 M570.74,544.93 L571.73,547.6 M574.03,543.55 L574.94,545.85 M577.32,542.11 L578.12,544.05 M580.58,540.6 L581.41,542.51 M583.82,539.03 L584.68,540.92 M587.04,537.39 L587.93,539.27 M590.23,535.68 L591.16,537.54 M593.47,534.03 L594.44,535.87 M406,564.6 Q407.77,566.2 409.55,564.6 M413.1,564.6 Q414.87,566.2 416.65,564.6 M420.2,564.6 Q421.97,566.2 423.75,564.6 M427.3,564.6 Q429.07,566.2 430.85,564.6 M434.4,564.6 Q436.17,566.2 437.95,564.6 M441.5,564.6 Q443.27,566.2 445.05,564.6 M448.6,564.6 Q450.37,566.2 452.15,564.6 M455.7,564.6 Q457.47,566.2 459.25,564.6 M462.8,564.6 Q464.57,566.2 466.35,564.6 M469.9,564.6 Q471.67,566.2 473.45,564.6 M477,564.6 Q478.77,566.2 480.55,564.6 M484.1,564.6 Q485.87,566.2 487.65,564.6 M491.39,564.59 Q493.44,566.16 495.47,564.52 M499.52,564.38 Q501.6,565.93 503.54,564.27 M507.51,564.09 Q509.61,565.56 511.44,563.85 M515.33,563.54 Q517.43,564.95 519.17,563.18 M522.98,562.76 Q525.09,564.09 526.74,562.27 M530.46,561.69 Q532.58,562.94 534.14,561.05 M537.79,560.36 Q539.92,561.56 541.4,559.62 M544.97,558.82 Q547.11,559.95 548.5,557.97 M551.96,556.92 Q554.05,557.74 555.32,555.5 M558.65,554.03 Q560.7,554.56 561.96,552.51 M565.24,550.93 Q567.23,551.16 568.5,549.29 M571.73,547.6 Q573.65,547.55 574.94,545.85 M578.12,544.05 Q580.01,543.88 581.41,542.51 M584.68,540.92 Q586.57,540.68 587.93,539.27 M591.16,537.54 Q593.09,537.28 594.44,535.87 M409.55,564.6 L413.1,564.6 M416.65,564.6 L420.2,564.6 M423.75,564.6 L427.3,564.6 M430.85,564.6 L434.4,564.6 M437.95,564.6 L441.5,564.6 M445.05,564.6 L448.6,564.6 M452.15,564.6 L455.7,564.6 M459.25,564.6 L462.8,564.6 M466.35,564.6 L469.9,564.6 M473.45,564.6 L477,564.6 M480.55,564.6 L484.1,564.6 M487.65,564.6 L491.39,564.59 M495.47,564.52 L499.52,564.38 M503.54,564.27 L507.51,564.09 M511.44,563.85 L515.33,563.54 M519.17,563.18 L522.98,562.76 M526.74,562.27 L530.46,561.69 M534.14,561.05 L537.79,560.36 M541.4,559.62 L544.97,558.82 M548.5,557.97 L551.96,556.92 M555.32,555.5 L558.65,554.03 M561.96,552.51 L565.24,550.93 M568.5,549.29 L571.73,547.6 M574.94,545.85 L578.12,544.05 M581.41,542.51 L584.68,540.92 M587.93,539.27 L591.16,537.54"/>
<path class="s" d="M661.2,107.1 L682,108.9 L663.8,200.6 L643.9,195.4 Q642,160 661.2,107.1 Z"/>
<path class="s" d="M662.2,107.8 L656.2,122.7 Q654.5,132 653.9,137.9 L650.1,166.7 Q648.5,176 647.1,181.8 L645.2,195"/>
<path class="s" d="M656.2,122.7 L679.2,128 M653.9,137.9 L676,136.6 M650.1,166.7 L669.3,174.2 M647.1,181.8 L667,182.6"/>
<path class="s" d="M682,114 L666.4,198.9 M684.6,114.3 L669,199.5"/>
<path class="s" d="M688.5,111.3 L695.8,113 Q697,113.5 696.6,115 L678.2,201 Q677.8,202.6 676,202.4 L670.6,201.6 Q669.4,201.3 669.6,200 L687,112.5 Q687.3,111.2 688.5,111.3 Z"/>
<path class="s" d="M693.2,127 L719.2,133.1 L709.7,181.6 M683,188.5 Q696,183 709.7,186.8"/>
<path class="s" d="M719.5,136.4 L732.5,138.5 M736.2,135.8 L724.4,195.3 M733.8,136.6 L722.2,195"/>
<path class="k" d="M720.5,160.3 L728.5,161.7 M719.8,165.3 L727.8,166.7 M719,170.3 L727,171.7"/>
<path class="s" d="M731.6,163 L735.4,163.8 L734.2,171.6 L730.4,170.8"/>
<path class="s" d="M709.9,177.5 L723.6,179.6"/>
<path class="s" d="M711.5,182 L722.5,183.5 Q723.8,184 723.5,185.5 L721.6,196.5 L707.8,196.5 Q706.6,196 706.8,194.5 L707.5,188 Q708.5,184 711.5,182 Z"/>
<ellipse class="s" cx="716.7" cy="190.2" rx="5.3" ry="5"/>
<path class="s" d="M709.3,196.7 L707.4,214 M719.5,196.7 L714.6,214"/>
</svg>
</body></html>
